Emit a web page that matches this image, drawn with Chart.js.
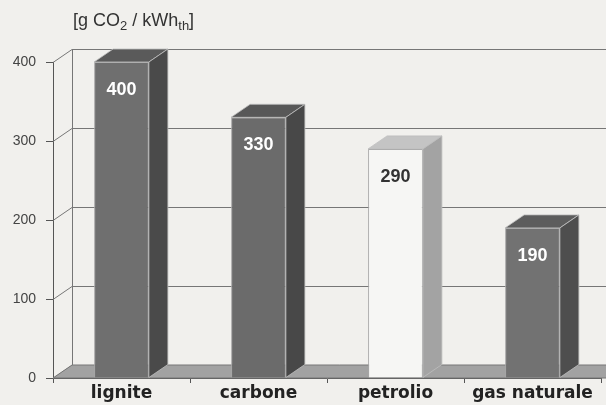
<!DOCTYPE html>
<html>
<head>
<meta charset="utf-8">
<script src="https://cdn.jsdelivr.net/npm/chart.js@4"></script>
<style>
    body { margin: 0; background: #f1f0ed; }
    #wrap { position: relative; width: 606px; height: 405px; }
    #unit {
        position: absolute; left: 73px; top: 10px;
        font-family: 'Liberation Sans', Arial, sans-serif; font-size: 18px; color: #333;
        line-height: 20px; white-space: nowrap;
    }
    #unit sub { font-size: 13px; vertical-align: -4px; line-height: 0; }
</style>
</head>
<body>
<div id="wrap">
    <canvas id="chart" width="606" height="405"></canvas>
    <div id="unit">[g CO<sub>2</sub> / kWh<sub>th</sub>]</div>
</div>
<script>
// data
const categories = ['lignite', 'carbone', 'petrolio', 'gas naturale'];
const emissions = [400, 330, 290, 190];
const yTicks = [0, 100, 200, 300, 400];

// bar styles (front / top / side faces)
const frontColors = ['#6f6f6f', '#6b6b6b', '#f6f6f4', '#727272'];
const topColors = ['#5a5a5a', '#585858', '#c4c4c4', '#5d5d5d'];
const sideColors = ['#4a4a4a', '#484848', '#a3a3a3', '#4e4e4e'];
const labelColors = ['#ffffff', '#ffffff', '#333333', '#ffffff'];

const DX = 19;
const DY = -13;

function face(ctx, pts, fill) {
    ctx.beginPath();
    ctx.moveTo(pts[0][0], pts[0][1]);
    for (let i = 1; i < pts.length; i++) ctx.lineTo(pts[i][0], pts[i][1]);
    ctx.closePath();
    ctx.fillStyle = fill;
    ctx.fill();
    ctx.stroke();
}

const depthPlugin = {
    id: 'depth3d',
    beforeDatasetsDraw(chart) {
        const ctx = chart.ctx;
        const area = chart.chartArea;
        const yScale = chart.scales.y;
        ctx.save();
        ctx.strokeStyle = '#767676';
        ctx.lineWidth = 1;

        // left wall + back wall grid lines
        yTicks.forEach(v => {
            const yf = Math.round(yScale.getPixelForValue(v)) + 0.5;
            ctx.beginPath();
            ctx.moveTo(area.left, yf);
            ctx.lineTo(area.left + DX, yf + DY);
            ctx.lineTo(chart.width, yf + DY);
            ctx.stroke();
        });

        // back edge of left wall
        ctx.beginPath();
        ctx.moveTo(area.left + DX + 0.5, area.top + DY);
        ctx.lineTo(area.left + DX + 0.5, area.bottom + DY);
        ctx.stroke();

        // floor
        face(ctx, [
            [area.left, area.bottom],
            [chart.width + 5, area.bottom],
            [chart.width + 5, area.bottom + DY],
            [area.left + DX, area.bottom + DY]
        ], '#a2a2a2');
        ctx.restore();
    },
    afterDatasetsDraw(chart) {
        const ctx = chart.ctx;
        const meta = chart.getDatasetMeta(0);
        ctx.save();
        meta.data.forEach((bar, i) => {
            const p = bar.getProps(['x', 'y', 'base', 'width'], true);
            const left = p.x - p.width / 2;
            const right = p.x + p.width / 2;
            ctx.strokeStyle = 'rgba(190,190,190,0.8)';
            ctx.lineWidth = 1;
            face(ctx, [[left, p.y], [right, p.y], [right + DX, p.y + DY], [left + DX, p.y + DY]], topColors[i]);
            face(ctx, [[right, p.y], [right + DX, p.y + DY], [right + DX, p.base + DY], [right, p.base]], sideColors[i]);

            ctx.fillStyle = labelColors[i];
            ctx.font = "bold 18px 'Liberation Sans Narrow', 'Liberation Sans', Arial, sans-serif";
            ctx.textAlign = 'center';
            ctx.textBaseline = 'middle';
            ctx.fillText(String(emissions[i]), p.x, p.y + 28);
        });
        ctx.restore();
    }
};

new Chart(document.getElementById('chart').getContext('2d'), {
    type: 'bar',
    data: {
        labels: categories,
        datasets: [{
            data: emissions,
            backgroundColor: frontColors,
            borderColor: '#a5a5a5',
            borderWidth: 1,
            categoryPercentage: 1,
            barPercentage: 0.4
        }]
    },
    options: {
        responsive: false,
        animation: false,
        devicePixelRatio: 1,
        layout: { padding: { left: 0, top: 62, right: 5, bottom: 0 } },
        plugins: {
            legend: { display: false },
            tooltip: { enabled: false }
        },
        scales: {
            x: {
                afterFit: s => { s.height = 27; },
                grid: { drawOnChartArea: false, tickLength: 5, color: '#555' },
                border: { color: '#555' },
                ticks: {
                    padding: 0,
                    color: '#222',
                    font: { family: "'DejaVu Sans', sans-serif", size: 17, weight: 'bold' }
                }
            },
            y: {
                min: 0,
                max: 400,
                afterFit: s => { s.width = 53; },
                grid: { drawOnChartArea: false, tickLength: 7, color: '#555' },
                border: { color: '#555' },
                ticks: {
                    stepSize: 100,
                    padding: 10,
                    color: '#444',
                    font: { family: "'Liberation Sans', Arial, sans-serif", size: 14 }
                }
            }
        }
    },
    plugins: [depthPlugin]
});
</script>
</body>
</html>
